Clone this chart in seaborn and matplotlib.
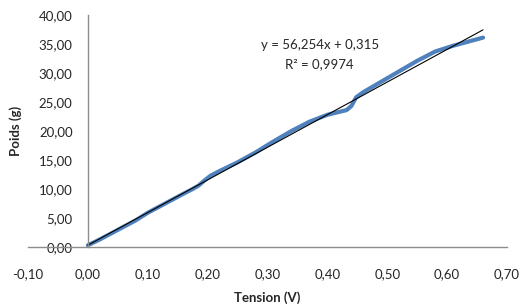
import numpy as np
import pandas as pd
import matplotlib
matplotlib.use("Agg")
import matplotlib.pyplot as plt
from matplotlib.ticker import FuncFormatter, MultipleLocator
import seaborn as sns

tension = [0.00, 0.02, 0.04, 0.06, 0.08, 0.10, 0.12, 0.14, 0.16, 0.175, 0.185, 0.195,
           0.205, 0.22, 0.25, 0.28, 0.31, 0.34, 0.37, 0.40, 0.42, 0.432, 0.44, 0.448,
           0.46, 0.49, 0.52, 0.55, 0.58, 0.61, 0.635, 0.66]
poids = [0.3, 1.3, 2.4, 3.5, 4.6, 5.9, 7.0, 8.1, 9.2, 10.0, 10.6, 11.5,
         12.3, 13.1, 14.6, 16.3, 18.2, 20.0, 21.6, 22.8, 23.3, 23.6, 24.3, 25.8,
         26.7, 28.5, 30.3, 32.1, 33.7, 34.7, 35.4, 36.1]

# linear trendline reported on the chart
slope = 56.254
intercept = 0.315
r2 = 0.9974

df = pd.DataFrame({"Tension": tension, "Poids": poids})
trend_x = [min(tension), max(tension)]
trend = pd.DataFrame({"Tension": trend_x,
                      "Poids": [slope * v + intercept for v in trend_x]})

sns.set_style("white")
plt.rcParams["font.family"] = ["Lato", "DejaVu Sans"]

fig = plt.figure(figsize=(5.23, 3.08), dpi=100)
ax = fig.add_axes([28 / 523, 1 - 247 / 308, 479 / 523, 232 / 308])

sns.lineplot(data=df, x="Tension", y="Poids", ax=ax, color="#4F81BD",
             linewidth=3, solid_capstyle="round", solid_joinstyle="round")
sns.lineplot(data=trend, x="Tension", y="Poids", ax=ax, color="black",
             linewidth=0.8)

ax.set_xlim(-0.10, 0.70)
ax.set_ylim(0, 40)
ax.xaxis.set_major_locator(MultipleLocator(0.10))
ax.yaxis.set_major_locator(MultipleLocator(5))
fmt = FuncFormatter(lambda v, p: f"{v:.2f}".replace(".", ",").replace("-0,00", "0,00"))
ax.xaxis.set_major_formatter(fmt)
ax.yaxis.set_major_formatter(fmt)

for s in ["top", "right"]:
    ax.spines[s].set_visible(False)
ax.spines["left"].set_position(("data", 0))
ax.spines["bottom"].set_position(("data", 0))
for s in ["left", "bottom"]:
    ax.spines[s].set_color("#8c8c8c")
    ax.spines[s].set_linewidth(1)

ax.tick_params(axis="both", direction="out", length=4, width=1, color="#8c8c8c",
               labelsize=9.5, labelcolor="#262626")
ax.tick_params(axis="x", pad=11)
ax.tick_params(axis="y", pad=7)

ax.set_xlabel("Tension (V)", fontsize=9.5, fontweight="bold", color="#262626")
ax.set_ylabel("Poids (g)", fontsize=9.5, fontweight="bold", color="#262626")
ax.xaxis.set_label_coords(0.5, -0.19)
ax.yaxis.set_label_coords(-0.012, 0.5)

ax.text(0.387, 34.8, f"y = {slope:.3f}x + {intercept:.3f}".replace(".", ","),
        ha="center", va="center", fontsize=9.5, color="#262626")
ax.text(0.387, 31.6, f"R² = {r2:.4f}".replace(".", ","),
        ha="center", va="center", fontsize=9.5, color="#262626")

ax.grid(False)
fig.savefig("out.png", dpi=100)
